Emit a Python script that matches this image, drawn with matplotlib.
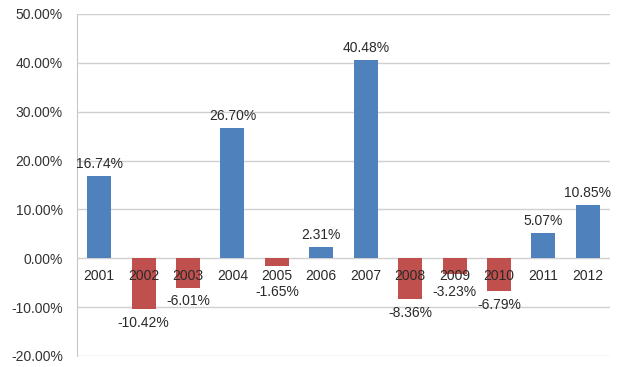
import matplotlib
matplotlib.use("Agg")
import matplotlib.pyplot as plt
import numpy as np

years = ['2001', '2002', '2003', '2004', '2005', '2006',
         '2007', '2008', '2009', '2010', '2011', '2012']
returns = [16.74, -10.42, -6.01, 26.70, -1.65, 2.31,
           40.48, -8.36, -3.23, -6.79, 5.07, 10.85]
yticks = [-20, -10, 0, 10, 20, 30, 40, 50]

plt.rcParams['font.family'] = ['Liberation Sans', 'DejaVu Sans']

fig = plt.figure(figsize=(6.2, 3.67), dpi=100)
ax = fig.add_axes([0.124, 0.03, 0.86, 0.932])

x = np.arange(len(years))
colors = ['#4F81BD' if v >= 0 else '#C0504D' for v in returns]
ax.bar(x, returns, width=0.54, color=colors, zorder=3)

for xi, v, yr in zip(x, returns, years):
    # positive labels above the bar, negative ones pushed below the year labels
    ly = v + 2.5 if v >= 0 else min(v - 2.8, -7.0)
    ax.text(xi, ly, f'{v:.2f}%', ha='center', va='center', fontsize=10, color='#2a2a2a', zorder=4)
    ax.text(xi, -3.7, yr, ha='center', va='center', fontsize=10, color='#2a2a2a', zorder=4)

ax.set_xlim(-0.5, len(years) - 0.5)
ax.set_ylim(-20, 50)
ax.set_yticks(yticks)
ax.set_yticklabels([f'{t:.2f}%' for t in yticks], fontsize=10, color='#333333')
ax.set_xticks([])
ax.tick_params(axis='y', length=0, pad=10)

ax.grid(axis='y', color='#D0D0D0', linewidth=1, zorder=0)
for s in ['top', 'right', 'bottom']:
    ax.spines[s].set_visible(False)
ax.spines['left'].set_color('#C8C8C8')

fig.savefig('out.png', dpi=100)
